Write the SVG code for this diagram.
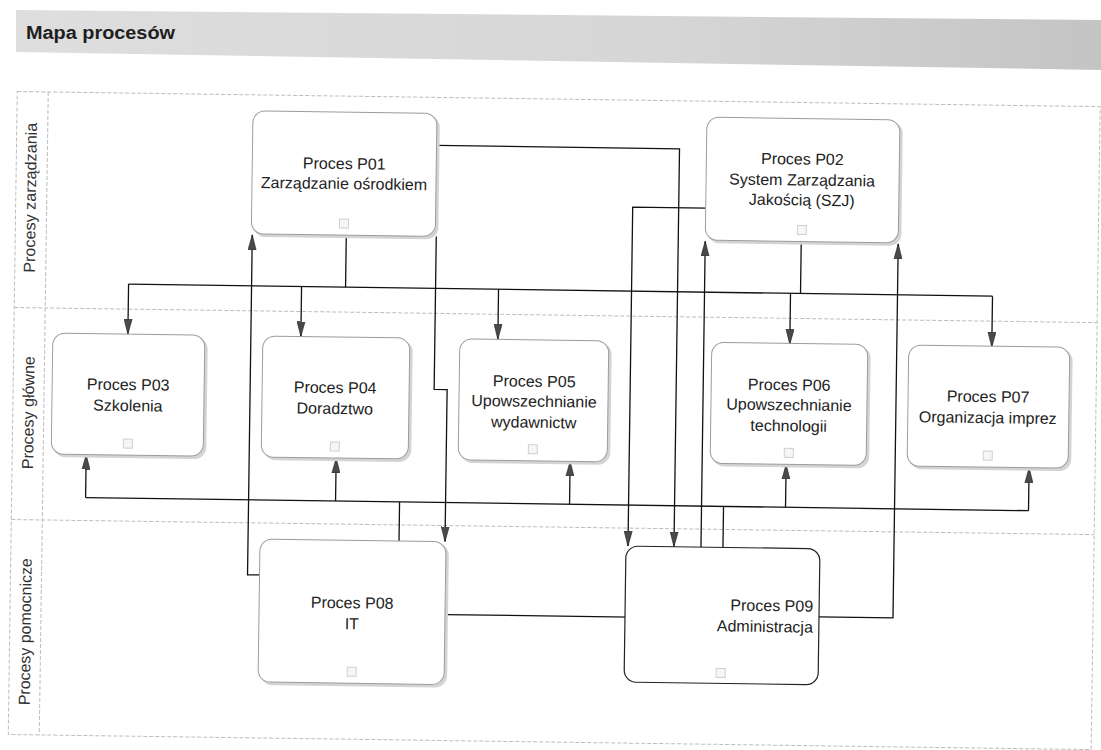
<svg xmlns="http://www.w3.org/2000/svg" width="1101" height="750" viewBox="0 0 1101 750">
<style>
.lane{fill:none;stroke:#bdbdbd;stroke-width:1;stroke-dasharray:4 2}
.lbl{font-family:"Liberation Sans",Arial,sans-serif;font-size:16px;fill:#333;text-anchor:middle}
.shadow{fill:#d4d4d4}
.box{fill:#fff;stroke:#9c9c9c;stroke-width:1}
.box9{fill:#fff;stroke:#222;stroke-width:1.2}
.t{font-family:"Liberation Sans",Arial,sans-serif;font-size:16px;fill:#222;text-anchor:middle}
.te{font-family:"Liberation Sans",Arial,sans-serif;font-size:16px;fill:#222;text-anchor:end}
.ic{fill:#f6f6f6;stroke:#cfcfcf;stroke-width:1}
.c{fill:none;stroke:#111;stroke-width:1.3}
.ca{fill:none;stroke:#111;stroke-width:1.3;marker-end:url(#arr)}
</style>
<defs>
<linearGradient id="band" x1="0" y1="0" x2="1" y2="0">
<stop offset="0" stop-color="#dedede"/>
<stop offset="0.6" stop-color="#d6d6d6"/>
<stop offset="1" stop-color="#c4c4c4"/>
</linearGradient>
<marker id="arr" viewBox="0 0 15 9" refX="15" refY="4.5" markerWidth="15" markerHeight="9" markerUnits="userSpaceOnUse" orient="auto">
<path d="M0,0.5 L15,4.5 L0,8.5 Z" fill="#4a4a4a" stroke="#1a1a1a" stroke-width="0.6"/>
</marker>
</defs>
<rect x="0" y="0" width="1101" height="750" fill="#fff"/>
<g id="header">
<polygon points="16,10 1101,20 1101,70 16,52" fill="url(#band)"/>
<text x="26" y="39" font-family="'Liberation Sans',Arial,sans-serif" font-size="18" font-weight="bold" fill="#1e1e1e" textLength="149" lengthAdjust="spacingAndGlyphs">Mapa procesów</text>
</g>
<g transform="rotate(0.8 550 400)">
<g id="lanes">
<rect class="lane" x="13" y="99" width="1083" height="643"/>
<line class="lane" x1="44" y1="99" x2="44" y2="742"/>
<line class="lane" x1="13" y1="315" x2="1096" y2="315"/>
<line class="lane" x1="13" y1="527" x2="1096" y2="527"/>
<text class="lbl" transform="translate(33 205) rotate(-90)" textLength="150" lengthAdjust="spacingAndGlyphs">Procesy zarządzania</text>
<text class="lbl" transform="translate(34 420) rotate(-90)" textLength="113" lengthAdjust="spacingAndGlyphs">Procesy główne</text>
<text class="lbl" transform="translate(34 639) rotate(-90)" textLength="147" lengthAdjust="spacingAndGlyphs">Procesy pomocnicze</text>
</g>
<g id="connectors">
<path class="c" d="M344,238 V290"/>
<path class="c" d="M799,238 V290"/>
<path class="c" d="M127,290 H991"/>
<path class="ca" d="M127,290 V340"/>
<path class="ca" d="M300,290 V340"/>
<path class="ca" d="M497,290 V340"/>
<path class="ca" d="M789,290 V341"/>
<path class="ca" d="M991,290 V341"/>
<path class="ca" d="M434,238 V391 H447 V543"/>
<path class="ca" d="M433,147 H676 V545"/>
<path class="ca" d="M703,206 H630 V545"/>
<path class="ca" d="M262,579 H250 V239"/>
<path class="ca" d="M448,616 H703 V239"/>
<path class="ca" d="M822,613 H896 V239"/>
<path class="c" d="M401,543 V504"/>
<path class="c" d="M725,545 V504"/>
<path class="c" d="M87,504 H1030"/>
<path class="ca" d="M87,504 V461"/>
<path class="ca" d="M337,504 V461"/>
<path class="ca" d="M571,504 V461"/>
<path class="ca" d="M787,504 V461"/>
<path class="ca" d="M1030,504 V461"/>
</g>
<g id="P01">
<rect class="shadow" x="251" y="117" width="185" height="124" rx="12"/>
<rect class="box" x="249" y="115" width="184" height="123" rx="12"/>
<text class="t" x="341" y="172">Proces P01</text>
<text class="t" x="341" y="192">Zarządzanie ośrodkiem</text>
<rect class="ic" x="337" y="222" width="9" height="9"/>
</g>
<g id="P02">
<rect class="shadow" x="705" y="117" width="194" height="124" rx="12"/>
<rect class="box" x="703" y="115" width="193" height="123" rx="12"/>
<text class="t" x="799" y="161">Proces P02</text>
<text class="t" x="799" y="182">System Zarządzania</text>
<text class="t" x="799" y="202">Jakością (SZJ)</text>
<rect class="ic" x="795" y="222" width="9" height="9"/>
</g>
<g id="P03">
<rect class="shadow" x="54" y="342" width="153" height="122" rx="12"/>
<rect class="box" x="52" y="340" width="152" height="121" rx="12"/>
<text class="t" x="128" y="396">Proces P03</text>
<text class="t" x="128" y="417">Szkolenia</text>
<rect class="ic" x="124" y="445" width="9" height="9"/>
</g>
<g id="P04">
<rect class="shadow" x="264" y="342" width="148" height="122" rx="12"/>
<rect class="box" x="262" y="340" width="147" height="121" rx="12"/>
<text class="t" x="335" y="396">Proces P04</text>
<text class="t" x="335" y="417">Doradztwo</text>
<rect class="ic" x="331" y="445" width="9" height="9"/>
</g>
<g id="P05">
<rect class="shadow" x="461" y="342" width="150" height="122" rx="12"/>
<rect class="box" x="459" y="340" width="149" height="121" rx="12"/>
<text class="t" x="534" y="387">Proces P05</text>
<text class="t" x="534" y="407">Upowszechnianie</text>
<text class="t" x="534" y="428">wydawnictw</text>
<rect class="ic" x="529" y="445" width="9" height="9"/>
</g>
<g id="P06">
<rect class="shadow" x="713" y="342" width="157" height="122" rx="12"/>
<rect class="box" x="711" y="340" width="156" height="121" rx="12"/>
<text class="t" x="789" y="387">Proces P06</text>
<text class="t" x="789" y="407">Upowszechnianie</text>
<text class="t" x="789" y="428">technologii</text>
<rect class="ic" x="785" y="445" width="9" height="9"/>
</g>
<g id="P07">
<rect class="shadow" x="910" y="342" width="162" height="122" rx="12"/>
<rect class="box" x="908" y="340" width="161" height="121" rx="12"/>
<text class="t" x="988" y="396">Proces P07</text>
<text class="t" x="988" y="417">Organizacja imprez</text>
<rect class="ic" x="984" y="445" width="9" height="9"/>
</g>
<g id="P08">
<rect class="shadow" x="264" y="545" width="187" height="144" rx="12"/>
<rect class="box" x="262" y="543" width="186" height="143" rx="12"/>
<text class="t" x="355" y="611">Proces P08</text>
<text class="t" x="355" y="632">IT</text>
<rect class="ic" x="351" y="670" width="9" height="9"/>
</g>
<g id="P09">
<rect class="box9" x="628" y="545" width="194" height="136" rx="12"/>
<text class="te" x="816" y="608">Proces P09</text>
<text class="te" x="816" y="629">Administracja</text>
<rect class="ic" x="720" y="666" width="9" height="9"/>
</g>
</g>
</svg>
